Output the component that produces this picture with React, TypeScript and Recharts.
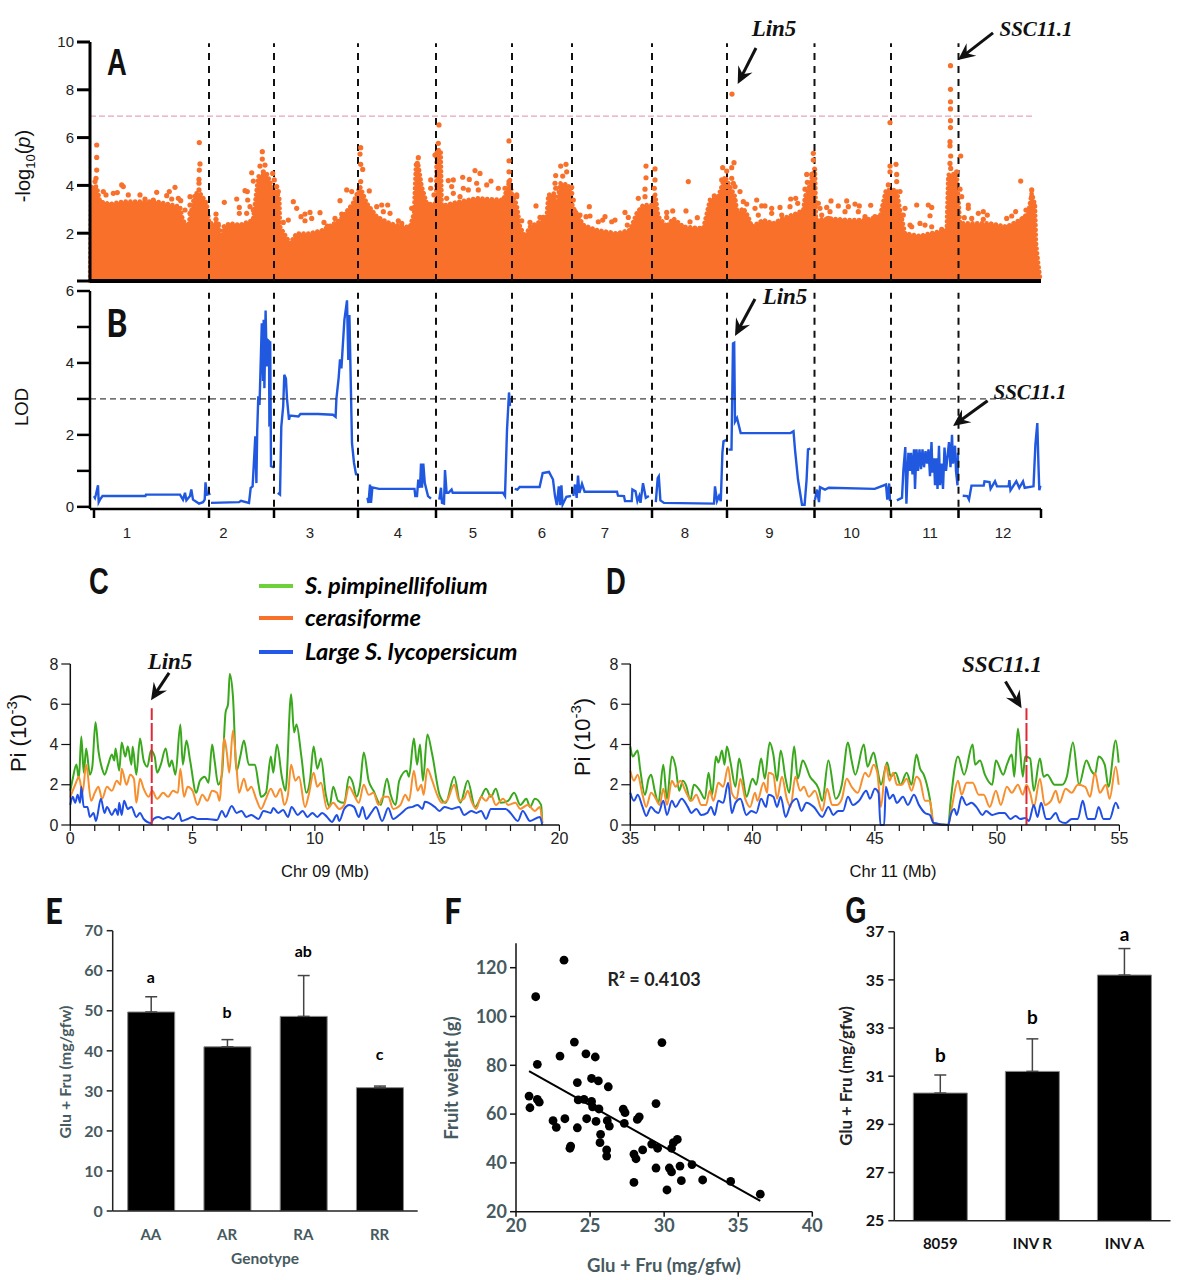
import {
  Area,
  Bar,
  ComposedChart,
  ErrorBar,
  LabelList,
  Line,
  ReferenceLine,
  Scatter,
  XAxis,
  YAxis,
} from "recharts";

type Pair = [number, number];

// panel A: genome position in Mb along the whole axis
const chrBounds = [119, 184, 268, 346, 422, 482, 562, 637, 724.5, 801, 868.5];
const chrNames = ["1", "2", "3", "4", "5", "6", "7", "8", "9", "10", "11", "12"];
const chrCenters = [37, 133.5, 220, 308, 383, 452, 515, 595, 679.5, 761.6, 840, 913];
const chrTicks = [4, ...chrBounds, 951];

const gwasTop: Pair[] = [
  [0, 0], [1, 3.4], [1.7, 3.95], [6.7, 3.95], [10, 3.32], [20, 3.22], [33, 3.32], [50, 3.32], [67, 3.32], [90, 3.11], [92.7, 2.55], [98, 2.27], [105, 3.67], [110, 3.67],
  [116.7, 3.25], [119.3, 2.41], [128, 2.41], [131.7, 1.72], [133.3, 2.27], [140, 2.41], [150, 2.34], [163, 2.55], [168.3, 4.37], [176.7, 4.5], [183.3, 3.81], [189.3, 3.53],
  [190, 2.27], [200, 1.58], [206.7, 1.99], [220, 1.99], [233, 2.13], [250, 2.55], [263, 3.25], [270, 3.95], [276.7, 3.25], [286.7, 2.69], [300, 2.41], [313, 2.27], [320, 2.27],
  [324, 2.83], [326, 4.92], [328.3, 4.85], [331.7, 3.95], [336.7, 3.25], [340, 3.22], [346, 3.25], [346.7, 5.48], [350.7, 5.48], [351.7, 3.18], [356.7, 3.18], [361.7, 3.25],
  [386.7, 3.46], [413.3, 3.39], [416.7, 3.81], [420, 4.23], [421.7, 3.67], [426.7, 3.18], [430, 2.27], [435, 1.85], [440, 2.27], [453.3, 2.55], [456.7, 2.69], [458.3, 3.6],
  [465, 3.67], [466.7, 3.04], [470, 4.09], [478.3, 4.02], [482.7, 3.11], [493.3, 2.34], [506.7, 2.13], [526.7, 1.99], [540, 2.13], [546.7, 2.83], [553.3, 3.18], [561.7, 3.18],
  [565, 3.67], [568.3, 2.69], [576.7, 2.27], [583.3, 2.62], [593.3, 2.27], [613.3, 2.2], [620, 3.39], [628.3, 3.53], [635, 4.37], [640, 3.95],
  [645, 3.53], [647.3, 2.83], [653.3, 3.04], [658.3, 2.69], [661.7, 2.27], [673.3, 2.55], [683.3, 2.41], [693.3, 2.62], [706.7, 2.83], [713.3, 2.97], [715, 3.53], [718.3, 3.81],
  [725, 4.78], [726, 2.55], [740, 2.62], [756.7, 2.55], [773, 2.55], [790, 2.69], [796, 3.81], [806.7, 3.81], [810, 2.97], [815, 1.99], [830, 1.88], [840, 1.99], [856.7, 2.13],
  [858.3, 4.44], [866.7, 4.5], [870, 2.41], [900, 2.41], [916.7, 2.27], [930, 2.55], [938.3, 2.83], [941.7, 3.67], [945, 3.18], [946, 1.58], [948.3, 0.7], [950.4, 0],
];

const gwasDots: Pair[] = [
  [6.7, 5.69], [6.7, 5.17], [6.7, 4.64], [6, 4.3], [5, 4.16],
  [13.3, 3.74], [16, 3.6], [23.3, 3.67], [27.3, 3.7], [31.7, 4.02], [33.3, 3.95], [38.3, 3.6], [50, 3.6], [55, 3.43], [66.7, 3.71], [63.3, 3.39], [76.7, 3.57], [79.3, 3.74], [85, 3.92],
  [81.7, 3.43], [88.3, 3.46], [90.7, 3.36], [100, 3.53], [100, 3.18], [95, 2.97], [100, 2.83], [109, 3.81], [109, 4.09], [109, 4.25], [109.3, 4.64], [110, 4.9], [109.3, 5.79],
  [126, 2.8], [126, 2.58], [128.3, 2.38], [134.3, 3.29], [146.7, 3.43], [149.3, 3.08], [149.3, 2.83], [155, 3.78], [157.3, 3.74], [157.7, 3.39], [161.7, 4.53], [163.3, 4.18], [160, 3.11],
  [163.3, 2.97], [156.7, 2.83], [172.3, 5.41], [172.3, 5.1], [170, 4.81], [175, 4.85], [173.3, 4.57], [182.7, 4.5], [184.3, 4.23], [186.7, 3.95], [188.3, 3.74],
  [193.3, 2.45], [198.3, 2.55], [203.3, 3.32], [206.7, 3.04], [211, 2.69], [215, 2.8], [220, 2.87], [215, 2.52], [221.7, 2.62], [230, 2.86], [234, 2.45], [237.3, 2.3], [245, 2.62], [250, 3.36],
  [251.7, 2.8], [256.7, 3.81], [261.7, 3.74], [270.7, 5.58], [270, 5.31], [270.7, 4.88], [272.7, 4.67], [270.7, 4.16], [279.3, 3.77], [286.7, 3.11], [291.7, 3.18], [297.7, 3.18], [293.3, 2.9],
  [300, 2.83], [308.3, 2.52], [311.7, 2.41],
  [321.7, 3.04], [327.3, 4.92], [328.3, 5.16], [340.7, 4.23], [340.7, 3.88], [344, 3.6], [345, 5.27], [348.3, 5.76], [348.3, 5.41], [349, 6.53], [358.3, 4.2], [363.3, 4.23], [361.7, 3.95], [363.3, 3.67],
  [356.7, 3.46], [372.7, 4.34], [379.3, 4.25], [385, 4.62], [390, 4.5], [386.7, 4.09], [396.7, 4.02], [401, 4.18], [373.3, 3.88], [378.3, 3.81], [388.3, 3.81], [370, 3.53], [408.3, 3.88],
  [419, 5.86], [419, 5.03], [419, 4.57], [419, 4.16], [415, 3.88], [426.7, 3.6], [426.7, 3.53], [431.7, 2.52], [440, 2.45], [446, 3.14], [450, 2.66], [453.3, 2.66], [465.7, 4.41], [465, 4.09],
  [465.7, 3.88], [460, 3.53], [470.7, 4.81], [476, 4.88], [472.7, 4.39], [476.7, 4.57], [481.7, 3.92], [481.7, 3.67], [483.3, 3.39], [485, 2.9], [490, 2.76], [496, 2.69], [499.3, 3.11], [500, 2.72],
  [508.3, 2.48], [515, 2.69], [512.7, 2.55], [521.7, 2.48], [525, 2.55], [535, 2.87], [538.3, 2.66], [537.3, 2.34], [556, 4.81], [556, 4.32], [555, 3.84], [555, 3.53], [548.3, 3.46], [550, 2.97],
  [565, 4.69], [565, 4.23], [564.3, 3.88], [576.7, 2.87], [576.7, 2.66], [582.7, 2.93], [596, 2.93], [598.3, 4.16], [600, 2.48], [607.3, 2.65], [621.7, 3.32], [624.3, 3.56], [632.7, 4.74], [636.7, 4.6],
  [631.7, 4.23], [636.7, 3.95],
  [642, 7.82], [644, 4.95], [641.7, 4.74], [641.7, 4.3], [643.3, 4.09], [645, 3.95], [650, 3.74], [653.3, 3.32], [656.7, 3.22], [666.7, 3.39], [665, 3.04], [671.7, 3.14], [675, 3.14], [668.3, 2.76],
  [681.7, 3.04], [681.7, 2.83], [690, 3.08], [691.7, 2.76], [700.7, 3.43], [705.7, 3.46], [700, 3.11], [707.7, 3.25], [723.3, 5.34], [723.3, 5.06], [716.7, 4.46], [721.7, 4.46], [717.3, 4.13], [715, 3.84],
  [728.3, 3.25], [730, 3.04], [736.7, 3.08], [741, 3.35], [748.3, 3.14], [740, 2.9], [731.7, 2.76], [738.3, 2.62], [750, 2.55], [756.7, 3.35], [758.3, 3.11], [755, 2.9], [765, 3.22], [769.3, 3.14],
  [768.3, 2.9], [775, 2.69], [780.7, 3.17], [792.7, 2.97], [785, 2.69], [800, 6.63], [800, 4.81], [806, 4.88], [800, 4.57], [806.7, 4.46], [806.7, 4.16], [798.3, 4.02], [810, 3.74], [815, 3.04], [813.3, 2.76],
  [820, 2.34], [826.7, 3.18], [838.3, 3.18], [841.7, 3.08], [840, 2.73], [841.7, 2.27], [830, 2.41], [835, 2.34], [821.7, 2.27], [851.7, 2.16], [860.5, 9.01], [860.5, 8.02], [860.5, 7.5], [860.5, 7.2],
  [860.5, 6.71], [860.5, 6.42], [860, 5.83], [860, 5.65], [860.7, 5.23], [860, 4.92], [860.7, 4.71], [866.7, 4.57], [870.7, 5.23], [870, 3.84], [871.7, 3.53], [878.3, 3.18], [878.3, 3.04], [881.7, 2.62],
  [874.3, 2.65], [888.3, 2.83], [893.3, 2.9], [897.3, 2.76], [893.3, 2.58], [900.7, 2.34], [916.7, 2.62], [921.7, 2.72], [925.7, 2.9], [936, 2.97], [930.7, 4.18], [941.7, 3.81], [941.7, 3.53], [941.7, 3.18],
  [933.3, 2.62], [944, 3.18],
];

// panel B: LOD curve, one list per chromosome
const lodChr1: Pair[] = [[4, 0.3], [5, 0.25], [6, 0.35], [8, 0.6], [8.7, 0.13], [10, 0.2], [12.5, 0.3], [55.4, 0.3], [56, 0.34], [90, 0.34], [93, 0.2], [95, 0.39], [96.4, 0.18], [100, 0.3], [101.3, 0.48], [103, 0.2], [109, 0.09], [113, 0.13], [114.7, 0.2], [115.5, 0.68], [117, 0.34], [120.5, 0.37]];
const lodChr2: Pair[] = [[121, 0.11], [149, 0.13], [151, 0.17], [159, 0.11], [160.7, 0.53], [162.6, 0.57], [163.7, 1.13], [165.3, 1.96], [166.4, 0.66], [167.2, 2.1], [168.3, 3.07], [169.5, 2.83], [171, 4.3], [171.8, 5.1], [173, 3.5], [173.7, 5.2], [174.4, 3.3], [175.6, 5.46], [176.8, 3.9], [177.9, 4.63], [179, 4.6], [179.4, 2.23], [180.2, 4.6], [181, 1.13], [184, 1.1]];
const lodChr3: Pair[] = [[187.8, 0.39], [190, 0.34], [191.3, 2.23], [193.2, 2.8], [194.3, 3.67], [195.9, 3.57], [197, 3], [199, 2.42], [200, 2.54], [208.5, 2.51], [210.4, 2.58], [228, 2.58], [243, 2.56], [245.6, 2.5], [246.4, 3], [248.7, 3.6], [250, 4.1], [251.4, 3.85], [254.4, 5.2], [257, 5.74], [258.3, 4.08], [259.4, 5.33], [262, 1.77], [264, 1.22], [266, 0.91], [268, 0.9]];
const lodChr4: Pair[] = [[277.4, 0.25], [278.5, 0.11], [280, 0.62], [281, 0.11], [282.4, 0.54], [289, 0.5], [324.5, 0.5], [325.3, 0.3], [327, 0.3], [328.3, 0.76], [330, 0.53], [331, 1.2], [332, 0.53], [333.3, 1.2], [334.8, 0.66], [338, 0.3], [341, 0.23]];
const lodChr5: Pair[] = [[349.3, 0.2], [351, 0.53], [352, 0.11], [354, 0.09], [355, 1.02], [356.6, 0.39], [358.5, 0.39], [361.6, 0.48], [362.7, 0.39], [413, 0.39], [415, 0.3], [417, 2.14], [419, 3.18], [420, 2.8]];
const lodChr6: Pair[] = [[424.7, 0.5], [427.4, 0.48], [429.7, 0.55], [449.6, 0.55], [452.7, 0.94], [459, 0.97], [463, 0.76], [465, 0.3], [466.8, 0.05], [468.8, 0.57], [470, 0.05], [471.4, 0.6], [472.6, 0.06], [476.4, 0.28], [481, 0.3]];
const lodChr7: Pair[] = [[483.3, 0.3], [485, 0.62], [486.7, 0.25], [488, 0.87], [489.4, 0.39], [492, 0.64], [494.6, 0.42], [527, 0.42], [528, 0.31], [534, 0.3], [535, 0.16], [541.7, 0.16], [542.4, 0.48], [545.5, 0.43], [547.4, 0.16], [549.3, 0.3], [550.5, 0.11], [553, 0.66], [555.8, 0.25], [558.9, 0.3]];
const lodChr8: Pair[] = [[565.8, 0.13], [567.7, 0.8], [568.8, 0.85], [570.4, 0.18], [574, 0.11], [624, 0.09], [625, 0.57], [627, 0.16], [629, 0.3], [630.8, 0.16], [632.4, 1.5], [633.5, 1.82], [637, 1.87]];
const lodChr9: Pair[] = [[638.5, 1.59], [641.5, 1.59], [643, 4.54], [644.2, 4.56], [645, 2.37], [647, 2.47], [650.7, 2.05], [700.5, 2.05], [703.5, 2.1], [705, 1.59], [708, 0.76], [712, 0.06], [714.6, 0.06], [716.6, 0.76], [718, 1.6], [720.4, 1.62]];
const lodChr10: Pair[] = [[725, 0.2], [727, 0.48], [729, 0.13], [730, 0.55], [735, 0.48], [738.8, 0.53], [784.7, 0.5], [796, 0.62], [797.3, 0.2], [799.2, 0.65], [800, 0.16]];
const lodChr11: Pair[] = [[806.9, 0.18], [812, 0.25], [813.4, 1.03], [815.3, 1.66], [816.4, 0.09], [818.4, 1.5], [820, 1.0], [821, 1.5], [822.5, 0.9], [824, 1.6], [825, 0.5], [826.5, 1.6], [828, 1.0], [829.5, 1.6], [831, 1.05], [832.5, 1.6], [834, 1.1], [835.5, 1.55], [837, 1.2], [838.5, 1.6], [840, 0.85], [841.5, 1.8], [842.5, 0.95], [844, 1.35], [845, 0.6], [846.5, 1.35], [847.5, 0.5], [849, 1.7], [850, 0.6], [851.5, 1.2], [853, 0.5], [854.5, 1.65], [856, 1.0], [857.5, 1.4], [859, 1.8], [860.5, 1.1], [862, 2.0], [863, 1.2], [865, 1.7], [866, 1.0], [867.5, 0.6], [868, 1.5]];
const lodChr12: Pair[] = [[872.7, 0.31], [877.3, 0.3], [879, 0.2], [881.5, 0.59], [893.7, 0.59], [894.5, 0.71], [899.5, 0.69], [900.6, 0.5], [905, 0.71], [907, 0.57], [918.6, 0.57], [919.4, 0.74], [920.5, 0.46], [926.3, 0.71], [929.3, 0.53], [933, 0.71], [934.7, 0.53], [943.5, 0.57], [945.4, 1.73], [947.3, 2.33], [948.5, 1.13], [949.3, 0.46], [950.4, 0.59]];
const lodByChr = [lodChr1, lodChr2, lodChr3, lodChr4, lodChr5, lodChr6, lodChr7, lodChr8, lodChr9, lodChr10, lodChr11, lodChr12];

// panel C: Pi along chr 09
const piC_green: Pair[] = [[0, 1.7], [0.1, 2.3], [0.25, 3.0], [0.35, 2.3], [0.45, 4.4], [0.55, 2.6], [0.65, 3.8], [0.8, 2.5], [0.9, 2.9], [1.03, 5.1], [1.15, 3.7], [1.3, 2.8], [1.4, 2.5], [1.55, 3.0], [1.7, 3.5], [1.8, 3.2], [1.85, 3.8], [2.0, 2.7], [2.1, 4.1], [2.25, 3.4], [2.35, 3.9], [2.5, 3.0], [2.55, 3.9], [2.7, 2.5], [2.85, 4.3], [3.0, 3.2], [3.15, 2.9], [3.3, 3.7], [3.45, 3.4], [3.55, 2.6], [3.7, 3.0], [3.9, 3.8], [4.05, 2.9], [4.15, 3.2], [4.3, 2.5], [4.5, 5.0], [4.6, 3.0], [4.75, 4.2], [4.9, 3.2], [5.15, 1.6], [5.3, 2.2], [5.5, 2.4], [5.65, 2.1], [5.8, 4.0], [5.9, 3.2], [6.05, 2.0], [6.2, 2.5], [6.35, 5.6], [6.45, 6.0], [6.52, 7.5], [6.65, 6.4], [6.8, 2.7], [6.95, 3.4], [7.1, 4.2], [7.3, 3.0], [7.55, 3.0], [7.7, 2.0], [7.8, 1.4], [8, 1.6], [8.2, 3.4], [8.3, 2.6], [8.45, 4.0], [8.65, 2.4], [8.8, 1.7], [9.03, 6.5], [9.15, 4.6], [9.25, 5.0], [9.45, 3.4], [9.65, 1.6], [9.8, 2.2], [9.95, 3.9], [10.1, 2.8], [10.25, 3.3], [10.45, 1.5], [10.6, 0.9], [10.75, 1.9], [10.95, 1.2], [11.2, 1.1], [11.4, 2.4], [11.55, 2.1], [11.7, 1.4], [11.85, 2.0], [12, 3.6], [12.2, 2.2], [12.4, 1.7], [12.7, 1.0], [12.95, 2.3], [13.1, 1.5], [13.3, 1.0], [13.45, 2.2], [13.75, 2.7], [13.85, 2.4], [14.05, 4.3], [14.18, 3.0], [14.3, 4.0], [14.42, 2.2], [14.6, 4.5], [14.8, 3.5], [15.1, 1.5], [15.35, 1.1], [15.7, 2.4], [15.95, 1.1], [16.25, 2.2], [16.55, 0.9], [16.8, 1.4], [17, 1.8], [17.2, 1.4], [17.4, 1.8], [17.6, 1.1], [17.9, 1.2], [18.15, 1.6], [18.4, 1.0], [18.65, 1.3], [18.8, 0.9], [19, 1.3], [19.25, 1.0], [19.3, 0.1]];
const piC_orange: Pair[] = [[0, 1.4], [0.2, 2.0], [0.35, 2.4], [0.5, 1.6], [0.65, 3.0], [0.85, 1.2], [1.0, 1.6], [1.15, 1.9], [1.3, 1.3], [1.5, 1.9], [1.7, 1.7], [1.9, 2.2], [2.05, 2.0], [2.1, 2.8], [2.3, 2.0], [2.45, 2.5], [2.6, 2.3], [2.7, 1.1], [2.85, 2.3], [3.0, 1.8], [3.2, 1.4], [3.35, 1.7], [3.55, 1.3], [3.8, 1.6], [4, 1.4], [4.2, 1.7], [4.4, 1.6], [4.5, 2.8], [4.65, 1.4], [4.8, 1.9], [5.0, 1.7], [5.2, 1.0], [5.4, 1.5], [5.6, 1.2], [5.8, 1.7], [6.0, 1.6], [6.1, 1.2], [6.3, 4.3], [6.4, 3.6], [6.5, 2.6], [6.65, 4.7], [6.8, 2.8], [6.9, 1.6], [7.1, 2.3], [7.25, 1.7], [7.4, 1.9], [7.6, 1.3], [7.8, 0.8], [8.0, 1.3], [8.2, 1.8], [8.4, 1.4], [8.6, 1.8], [8.75, 1.0], [8.9, 1.5], [9.03, 3.0], [9.2, 2.2], [9.35, 2.4], [9.6, 0.9], [9.75, 1.5], [9.95, 2.6], [10.1, 1.9], [10.25, 2.1], [10.5, 0.8], [10.75, 1.1], [11, 0.8], [11.2, 1.0], [11.4, 1.9], [11.6, 1.5], [11.8, 1.1], [12, 2.0], [12.2, 1.5], [12.4, 1.6], [12.6, 1.0], [12.8, 1.4], [13, 1.4], [13.2, 0.8], [13.5, 1.0], [13.7, 1.5], [13.85, 1.2], [14.05, 2.7], [14.2, 1.7], [14.35, 2.0], [14.45, 1.5], [14.6, 2.8], [14.8, 2.2], [15, 1.5], [15.2, 1.1], [15.4, 1.2], [15.7, 2.0], [15.9, 1.2], [16.1, 1.3], [16.25, 1.7], [16.4, 1.2], [16.6, 0.8], [16.8, 1.4], [17, 1.2], [17.2, 1.5], [17.4, 1.0], [17.7, 1.3], [17.9, 1.0], [18.2, 1.1], [18.4, 0.8], [18.7, 1.0], [19, 0.7], [19.2, 0.9], [19.3, 0.1]];
const piC_blue: Pair[] = [[0, 1.0], [0.1, 1.4], [0.2, 1.1], [0.3, 1.5], [0.4, 1.1], [0.45, 1.9], [0.55, 0.9], [0.7, 0.9], [0.8, 0.4], [0.95, 0.6], [1.05, 0.2], [1.25, 1.3], [1.4, 0.6], [1.5, 0.9], [1.7, 0.5], [1.85, 0.8], [1.95, 0.5], [2.0, 1.1], [2.1, 0.5], [2.2, 1.2], [2.35, 0.8], [2.5, 0.9], [2.7, 0.4], [2.85, 0.6], [3, 0.3], [3.3, 0.1], [3.4, 0.3], [3.6, 0.4], [3.8, 0.3], [4, 0.4], [4.2, 0.3], [4.45, 0.6], [4.55, 0.2], [4.8, 0.3], [5, 0.4], [5.2, 0.3], [5.6, 0.3], [6, 0.25], [6.2, 0.7], [6.35, 0.4], [6.6, 0.95], [6.8, 0.6], [7, 0.7], [7.2, 0.4], [7.4, 0.5], [7.7, 0.3], [7.9, 0.7], [8.2, 0.6], [8.3, 0.85], [8.5, 0.6], [8.7, 0.75], [8.9, 0.4], [9.05, 0.9], [9.3, 0.5], [9.5, 0.7], [9.7, 0.4], [9.9, 0.6], [10.1, 0.4], [10.3, 0.6], [10.5, 0.4], [10.7, 0.15], [10.9, 0.5], [11, 0.2], [11.2, 0.8], [11.4, 1.0], [11.6, 0.9], [11.8, 0.4], [11.95, 0.9], [12.1, 0.3], [12.3, 0.6], [12.5, 0.9], [12.75, 0.2], [13, 0.85], [13.2, 0.3], [13.5, 0.55], [13.8, 0.85], [14, 0.9], [14.2, 1.0], [14.4, 0.8], [14.5, 1.15], [14.9, 0.9], [15.1, 0.7], [15.3, 0.9], [15.6, 0.8], [15.9, 0.9], [16.1, 0.5], [16.4, 0.7], [16.6, 0.6], [16.8, 0.7], [17.0, 0.3], [17.2, 0.8], [17.5, 0.8], [17.8, 0.8], [18, 0.6], [18.3, 0.2], [18.5, 0.7], [18.8, 0.2], [19.2, 0.4], [19.3, 0]];

// panel D: Pi along chr 11
const piD_green: Pair[] = [[35, 3.9], [35.1, 3.4], [35.3, 3.7], [35.4, 2.8], [35.6, 1.5], [35.75, 2.3], [35.85, 2.5], [36, 1.7], [36.15, 1.1], [36.35, 3.0], [36.5, 1.3], [36.7, 3.4], [36.85, 2.9], [37, 1.7], [37.15, 2.2], [37.3, 1.9], [37.45, 1.2], [37.6, 2.0], [37.85, 1.7], [38.05, 1.3], [38.2, 2.6], [38.35, 1.5], [38.5, 3.4], [38.6, 3.1], [38.75, 3.7], [38.85, 3.0], [38.95, 3.9], [39.1, 3.1], [39.3, 1.9], [39.45, 3.3], [39.6, 2.4], [39.75, 1.4], [40.0, 2.3], [40.15, 2.0], [40.35, 3.3], [40.5, 2.3], [40.7, 4.1], [40.85, 3.5], [41, 2.2], [41.15, 3.7], [41.35, 2.3], [41.5, 1.6], [41.7, 3.9], [41.85, 2.3], [42.05, 3.2], [42.35, 2.4], [42.7, 1.8], [42.85, 1.2], [43.1, 3.2], [43.4, 1.3], [43.65, 2.0], [43.9, 4.1], [44.05, 3.2], [44.2, 2.5], [44.55, 4.0], [44.7, 2.9], [44.95, 3.6], [45.1, 2.8], [45.25, 2.0], [45.5, 3.1], [45.65, 2.4], [45.85, 2.6], [46.05, 2.0], [46.3, 2.6], [46.5, 2.0], [46.7, 3.5], [46.85, 2.8], [47, 2.5], [47.25, 1.3], [47.4, 0.1], [48, 0], [48.1, 1.2], [48.4, 3.4], [48.65, 2.5], [49, 4.0], [49.1, 3.0], [49.3, 3.2], [49.5, 2.5], [49.8, 2.0], [49.95, 3.2], [50.25, 2.5], [50.4, 3.0], [50.6, 3.5], [50.7, 2.4], [50.85, 4.8], [51.05, 2.4], [51.15, 3.4], [51.35, 3.3], [51.5, 1.7], [51.75, 3.3], [51.9, 2.4], [52.05, 2.5], [52.35, 2.0], [52.65, 2.0], [52.85, 2.4], [53.1, 4.1], [53.35, 2.0], [53.65, 3.2], [53.85, 2.7], [54.0, 2.5], [54.15, 3.4], [54.4, 3.0], [54.55, 1.9], [54.85, 4.2], [54.97, 3.1]];
const piD_orange: Pair[] = [[35, 2.7], [35.15, 2.2], [35.3, 2.5], [35.5, 1.5], [35.65, 0.9], [35.85, 1.6], [36, 1.4], [36.2, 1.0], [36.35, 1.8], [36.5, 1.0], [36.7, 2.2], [36.85, 1.9], [37.05, 2.2], [37.25, 1.7], [37.5, 1.2], [37.7, 1.5], [37.9, 1.0], [38.1, 1.0], [38.25, 1.7], [38.4, 1.2], [38.6, 2.1], [38.8, 1.9], [39, 2.9], [39.15, 1.6], [39.35, 1.3], [39.5, 2.3], [39.7, 1.3], [39.9, 0.9], [40.1, 1.6], [40.2, 1.2], [40.45, 2.1], [40.6, 1.6], [40.65, 2.6], [40.85, 2.5], [41, 1.3], [41.2, 2.4], [41.4, 1.3], [41.55, 0.9], [41.75, 2.4], [41.95, 1.7], [42.1, 1.9], [42.3, 1.4], [42.55, 1.7], [42.85, 0.7], [43.05, 1.8], [43.25, 1.0], [43.45, 1.0], [43.65, 1.3], [43.85, 2.3], [44.05, 1.9], [44.3, 1.6], [44.6, 2.6], [44.75, 2.4], [44.95, 3.0], [45.1, 2.6], [45.25, 0.9], [45.45, 3.0], [45.6, 2.2], [45.75, 2.6], [45.9, 2.0], [46.1, 2.0], [46.3, 2.3], [46.5, 1.7], [46.7, 2.4], [46.85, 2.2], [47.05, 1.2], [47.25, 1.2], [47.4, 0.1], [48, 0], [48.15, 0.9], [48.4, 2.2], [48.55, 1.5], [48.75, 2.1], [49, 2.1], [49.25, 1.5], [49.45, 1.5], [49.7, 0.9], [49.95, 1.7], [50.15, 1.0], [50.4, 1.9], [50.6, 1.6], [50.85, 2.0], [51.05, 1.5], [51.2, 2.0], [51.35, 1.6], [51.5, 0.9], [51.75, 2.3], [51.95, 1.0], [52.2, 1.2], [52.4, 1.7], [52.55, 1.1], [52.8, 1.8], [53.05, 1.6], [53.3, 2.0], [53.6, 1.9], [53.8, 1.4], [54, 2.6], [54.2, 1.6], [54.45, 2.0], [54.6, 1.3], [54.85, 2.9], [54.97, 2.0]];
const piD_blue: Pair[] = [[35, 1.6], [35.15, 1.2], [35.3, 1.5], [35.5, 0.9], [35.65, 0.45], [35.85, 0.9], [36, 0.7], [36.15, 0.6], [36.35, 1.2], [36.5, 0.5], [36.7, 1.2], [36.85, 0.9], [37.1, 1.3], [37.35, 0.9], [37.5, 0.6], [37.7, 0.8], [37.9, 0.5], [38.15, 0.6], [38.3, 0.9], [38.45, 0.5], [38.6, 1.2], [38.8, 1.1], [39, 2.1], [39.15, 0.6], [39.3, 1.1], [39.5, 1.3], [39.75, 0.5], [39.95, 0.7], [40.15, 0.6], [40.35, 1.3], [40.55, 0.9], [40.65, 1.5], [40.85, 1.4], [41, 0.9], [41.15, 1.4], [41.35, 0.4], [41.55, 1.0], [41.8, 1.3], [42, 0.7], [42.2, 1.1], [42.5, 0.9], [42.85, 0.4], [43.1, 0.9], [43.3, 0.5], [43.5, 0.7], [43.7, 0.7], [43.9, 1.4], [44.1, 1.0], [44.35, 1.2], [44.65, 1.7], [44.8, 1.3], [45, 1.8], [45.15, 1.6], [45.23, 0], [45.38, 0], [45.45, 1.9], [45.6, 1.3], [45.75, 1.5], [45.9, 1.1], [46.15, 1.4], [46.35, 1.0], [46.6, 1.5], [46.8, 1.0], [47.05, 0.6], [47.25, 0.5], [47.4, 0.1], [48, 0], [48.1, 0.5], [48.25, 0.8], [48.35, 0.5], [48.55, 1.4], [48.75, 1.0], [48.95, 1.1], [49.15, 0.9], [49.4, 0.5], [49.55, 0.7], [49.8, 0.5], [50.1, 0.6], [50.3, 0.6], [50.55, 0.3], [50.75, 0.45], [50.95, 0.3], [51.15, 0.35], [51.3, 0.2], [51.5, 1.0], [51.65, 0.4], [51.8, 1.1], [52, 0.3], [52.15, 0.3], [52.4, 0.6], [52.55, 0.2], [52.8, 0.1], [53.05, 0.3], [53.3, 0.3], [53.5, 1.2], [53.7, 0.3], [54, 0.3], [54.15, 0.9], [54.35, 0.3], [54.6, 0.3], [54.85, 1.1], [54.97, 0.8]];

const cTicks = [0, 1, 2, 3, 4, 5, 6, 7, 8, 9, 10, 11, 12, 13, 14, 15, 16, 17, 18, 19, 20];
const dTicks = [35, 36, 37, 38, 39, 40, 41, 42, 43, 44, 45, 46, 47, 48, 49, 50, 51, 52, 53, 54, 55];

// panel E
const genotypes = ["AA", "AR", "RA", "RR"];
const genotypeMeans = [49.7, 41, 48.6, 30.8];
const genotypeErrors = [3.8, 1.8, 10.2, 0.4];
const genotypeLetters = ["a", "b", "ab", "c"];
const genotypeLetterAt = [58.3, 49.6, 64.8, 39.1];

// panel F
const sugarWeight: Pair[] = [
  [23.24, 123.1], [21.33, 108.1], [23.94, 89.5], [29.85, 89.3], [24.72, 84.7], [25.35, 83.4], [22.97, 83.8], [21.44, 80.4], [25.1, 74.6], [25.56, 73.6],
  [24.14, 72.9], [26.23, 71.2], [20.88, 67.4], [20.94, 62.6], [21.44, 66], [21.57, 64.9], [24.2, 65.8], [24.59, 66], [25.1, 65.2], [25.17, 63], [25.6, 62.1],
  [29.45, 64.3], [27.24, 62], [27.36, 60.6], [28.32, 58.9], [28.19, 57.8], [22.5, 57.3], [22.72, 54.6], [23.3, 58.1], [24.14, 54.4], [24.77, 58.1], [25.4, 57],
  [26.16, 57.3], [26.3, 55.1], [27.31, 56.2], [25.71, 51.7], [25.67, 48.3], [26.12, 45.3], [26.12, 42.8], [23.69, 46.9], [23.64, 46], [28.55, 45.3], [27.96, 43.6],
  [28.1, 41.7], [29.16, 47.7], [29.56, 46], [30.5, 46], [30.62, 48.3], [30.89, 49.6], [31.88, 39.3], [31.07, 38.7], [30.35, 37.9], [30.5, 36.3], [29.45, 37.9],
  [27.96, 32], [30.19, 28.9], [31.16, 32.7], [32.6, 33], [34.49, 32.4], [36.49, 27.2],
];
const sugarTrend: Pair[] = [[20.88, 77.6], [36.49, 24.4]];

// panel G
const lines = ["8059", "INV R", "INV A"];
const lineMeans = [30.3, 31.2, 35.2];
const lineErrors = [0.75, 1.35, 1.1];
const lineLetters = ["b", "b", "a"];
const lineLetterAt = [31.85, 33.46, 36.9];

const pts = (list: Pair[]) => list.map(([x, y]) => ({ x, y }));
const table = (names: string[], means: number[], errs: number[], letters: string[], at: number[]) =>
  names.map((name, i) => ({ name, mean: means[i], err: [0, errs[i]], letter: letters[i], at: at[i] }));

const SANS = "'Liberation Sans', Arial, sans-serif";
const CAL = "Lato, 'Open Sans', sans-serif";
const SERIF = "'Liberation Serif', serif";
const SLATE = "#465a60";
const ORANGE = "#f8702a";
const LOD_BLUE = "#2058e0";
const PI_GREEN = "#3aa81c";
const PI_ORANGE = "#f78f2e";
const PI_BLUE = "#1f4fe6";
const RED = "#de2a38";

function Arrow(props: any) {
  const { x1, y1, x2, y2 } = props;
  const len = Math.hypot(x2 - x1, y2 - y1);
  const ux = (x2 - x1) / len;
  const uy = (y2 - y1) / len;
  const back = (d: number, s: number) => `${x2 - ux * d - uy * s},${y2 - uy * d + ux * s}`;
  return (
    <g>
      <line x1={x1} y1={y1} x2={x2 - ux * 10} y2={y2 - uy * 10} stroke="#111" strokeWidth={3} />
      <polygon points={`${x2},${y2} ${back(17, 8)} ${back(11, 0)} ${back(17, -8)}`} fill="#111" />
    </g>
  );
}

function Note({ x, y, size, font = SANS, weight = 400, italic = false, color = "#111", rotate = 0, stretch = 1, children }: any) {
  return (
    <div
      style={{
        position: "absolute",
        left: x,
        top: y,
        transform: `translate(-50%, -50%) rotate(${rotate}deg) scaleX(${stretch})`,
        fontFamily: font,
        fontSize: size,
        fontWeight: weight,
        fontStyle: italic ? "italic" : "normal",
        color,
        whiteSpace: "nowrap",
        lineHeight: 1,
      }}
    >
      {children}
    </div>
  );
}

function Box({ left, top, children }: any) {
  return <div style={{ position: "absolute", left, top }}>{children}</div>;
}

function arrowLine(key: string, from: Pair, to: Pair) {
  return (
    <ReferenceLine
      key={key}
      segment={[{ x: from[0], y: from[1] }, { x: to[0], y: to[1] }]}
      ifOverflow="visible"
      shape={Arrow}
    />
  );
}

function chrLines(top: number) {
  return chrBounds.map((x) => (
    <ReferenceLine
      key={x}
      segment={[{ x, y: 0 }, { x, y: top }]}
      stroke="#111"
      strokeWidth={2}
      strokeDasharray="7 6"
      ifOverflow="visible"
    />
  ));
}

function PanelA() {
  return (
    <ComposedChart width={1180} height={270} margin={{ top: 22, right: 139, bottom: 9, left: 0 }}>
      <XAxis dataKey="x" type="number" domain={[0, 951]} hide />
      <YAxis
        dataKey="y"
        type="number"
        width={90}
        domain={[0, 10]}
        ticks={[0, 2, 4, 6, 8, 10]}
        tickFormatter={(v) => (v === 0 ? "" : String(v))}
        tickSize={13}
        tickMargin={3}
        tick={{ fontSize: 15, fill: "#222", fontFamily: SANS }}
        axisLine={{ stroke: "#000", strokeWidth: 3 }}
        tickLine={{ stroke: "#000", strokeWidth: 3 }}
      />
      <Area
        data={pts(gwasTop)}
        dataKey="y"
        type="linear"
        stroke={ORANGE}
        strokeWidth={4.6}
        strokeDasharray="0.1 4.6"
        strokeLinecap="round"
        fill={ORANGE}
        fillOpacity={1}
        dot={false}
        isAnimationActive={false}
      />
      <Scatter
        data={pts(gwasDots)}
        dataKey="y"
        fill={ORANGE}
        shape={(p: any) => <circle cx={p.cx} cy={p.cy} r={2.6} fill={ORANGE} />}
        isAnimationActive={false}
      />
      <ReferenceLine segment={[{ x: 0, y: 6.9 }, { x: 945, y: 6.9 }]} stroke="#e8a3bb" strokeWidth={1.2} strokeDasharray="6 3" />
      <ReferenceLine y={0} stroke="#000" strokeWidth={4} />
      {chrLines(9.95)}
      {arrowLine("lin5", [666, 9.75], [647.7, 8.24])}
      {arrowLine("ssc", [903, 10.38], [868, 9.25])}
    </ComposedChart>
  );
}

function PanelB() {
  return (
    <ComposedChart width={1180} height={270} margin={{ top: 11, right: 139, bottom: 0, left: 0 }}>
      <XAxis
        xAxisId={0}
        dataKey="x"
        type="number"
        domain={[0, 951]}
        ticks={chrTicks}
        interval={0}
        height={10}
        tickSize={9}
        tickFormatter={() => ""}
        axisLine={{ stroke: "#000", strokeWidth: 2.5 }}
        tickLine={{ stroke: "#000", strokeWidth: 2.5 }}
      />
      <XAxis
        xAxisId="chr"
        dataKey="x"
        type="number"
        domain={[0, 951]}
        ticks={chrCenters}
        interval={0}
        height={31}
        axisLine={false}
        tickLine={false}
        tickMargin={2}
        tickFormatter={(v) => chrNames[chrCenters.indexOf(v)]}
        tick={{ fontSize: 15, fill: "#222", fontFamily: SANS }}
      />
      <YAxis
        dataKey="y"
        type="number"
        width={90}
        domain={[-0.06, 6]}
        ticks={[0, 1, 2, 3, 4, 5, 6]}
        interval={0}
        tickFormatter={(v) => (v % 2 === 0 ? String(v) : "")}
        tickSize={13}
        tickMargin={3}
        tick={{ fontSize: 15, fill: "#222", fontFamily: SANS }}
        axisLine={{ stroke: "#000", strokeWidth: 2.5 }}
        tickLine={{ stroke: "#000", strokeWidth: 2.5 }}
      />
      <Line xAxisId="chr" data={chrCenters.map((x) => ({ x, y: 0 }))} dataKey="y" stroke="none" dot={false} isAnimationActive={false} />
      {lodByChr.map((seg, i) => (
        <Line key={chrNames[i]} data={pts(seg)} dataKey="y" type="linear" stroke={LOD_BLUE} strokeWidth={2.4} dot={false} isAnimationActive={false} />
      ))}
      <ReferenceLine y={3} stroke="#111" strokeWidth={1} strokeDasharray="6 4" />
      {chrLines(5.95)}
      {arrowLine("lin5", [665, 5.78], [645, 4.75])}
      {arrowLine("ssc", [897.6, 2.95], [863, 2.25])}
    </ComposedChart>
  );
}

function PiPanel({ width, axisWidth, domain, ticks, major, green, orange, blue, marker, arrow }: any) {
  return (
    <ComposedChart width={width} height={210} margin={{ top: 14, right: 20.6, bottom: 0, left: 0 }}>
      <XAxis
        dataKey="x"
        type="number"
        domain={domain}
        ticks={ticks}
        interval={0}
        height={35}
        tickSize={6}
        tickMargin={2}
        tickFormatter={(v) => ((v - domain[0]) % 5 === 0 ? String(v) : "")}
        tick={{ fontSize: 16, fill: "#222", fontFamily: SANS }}
        axisLine={{ stroke: "#111", strokeWidth: 1.5 }}
        tickLine={{ stroke: "#111", strokeWidth: 1.2 }}
      />
      <YAxis
        dataKey="y"
        type="number"
        width={axisWidth}
        domain={[0, 8]}
        ticks={major}
        tickSize={9}
        tickMargin={3}
        tick={{ fontSize: 16, fill: "#222", fontFamily: SANS }}
        axisLine={{ stroke: "#111", strokeWidth: 1.5 }}
        tickLine={{ stroke: "#111", strokeWidth: 1.2 }}
      />
      <Line data={pts(green)} dataKey="y" type="monotone" stroke={PI_GREEN} strokeWidth={2} dot={false} isAnimationActive={false} />
      <Line data={pts(orange)} dataKey="y" type="monotone" stroke={PI_ORANGE} strokeWidth={2} dot={false} isAnimationActive={false} />
      <Line data={pts(blue)} dataKey="y" type="monotone" stroke={PI_BLUE} strokeWidth={2} dot={false} isAnimationActive={false} />
      <ReferenceLine segment={[{ x: marker, y: 0 }, { x: marker, y: 5.8 }]} stroke={RED} strokeWidth={2} strokeDasharray="18 3" />
      {arrowLine("gene", arrow[0], arrow[1])}
    </ComposedChart>
  );
}

function BarPanel({ width, height, margin, axisWidth, xHeight, rows, domain, ticks, band, tickColor, tickSize, barSize, xMargin, right, letterSize }: any) {
  return (
    <ComposedChart width={width} height={height} data={rows} margin={{ ...margin, right, bottom: 0, left: 0 }}>
      <XAxis
        dataKey="name"
        type="category"
        height={xHeight}
        tickLine={false}
        tickMargin={xMargin}
        tick={{ fontSize: band, fill: tickColor, fontFamily: CAL, fontWeight: 700 }}
        axisLine={{ stroke: "#222", strokeWidth: 1.5 }}
      />
      <YAxis
        type="number"
        width={axisWidth}
        domain={domain}
        ticks={ticks}
        interval={0}
        allowDataOverflow
        tickSize={6}
        tickMargin={4}
        tick={{ fontSize: tickSize, fill: tickColor, fontFamily: CAL, fontWeight: 700 }}
        axisLine={{ stroke: "#222", strokeWidth: 1.5 }}
        tickLine={{ stroke: "#222", strokeWidth: 1.5 }}
      />
      <Bar dataKey="mean" fill="#000" stroke="#888" strokeWidth={1} barSize={barSize} isAnimationActive={false}>
        <ErrorBar dataKey="err" direction="y" width={6} stroke="#444" strokeWidth={1.5} isAnimationActive={false} />
      </Bar>
      <Line dataKey="at" stroke="none" dot={false} isAnimationActive={false}>
        <LabelList dataKey="letter" position="center" style={{ fontFamily: CAL, fontWeight: 700, fontSize: letterSize, fill: "#000" }} />
      </Line>
    </ComposedChart>
  );
}

function PanelF() {
  return (
    <ComposedChart width={390} height={320} margin={{ top: 13.3, right: 17.7, bottom: 0, left: 0 }}>
      <XAxis
        dataKey="x"
        type="number"
        domain={[20, 40]}
        ticks={[20, 25, 30, 35, 40]}
        height={38.3}
        tickSize={5}
        tickMargin={3}
        tick={{ fontSize: 18, fill: SLATE, fontFamily: CAL, fontWeight: 700 }}
        axisLine={{ stroke: "#111", strokeWidth: 1.5 }}
        tickLine={{ stroke: "#111", strokeWidth: 1.5 }}
      />
      <YAxis
        dataKey="y"
        type="number"
        width={76}
        domain={[20, 130]}
        ticks={[20, 40, 60, 80, 100, 120]}
        interval={0}
        tickSize={6}
        tickMargin={3}
        tick={{ fontSize: 18, fill: SLATE, fontFamily: CAL, fontWeight: 700 }}
        axisLine={{ stroke: "#111", strokeWidth: 1.5 }}
        tickLine={{ stroke: "#111", strokeWidth: 1.5 }}
      />
      <Scatter
        data={pts(sugarWeight)}
        dataKey="y"
        fill="#000"
        shape={(p: any) => <circle cx={p.cx} cy={p.cy} r={4.4} fill="#000" />}
        isAnimationActive={false}
      />
      <Line data={pts(sugarTrend)} dataKey="y" type="linear" stroke="#000" strokeWidth={2} dot={false} isAnimationActive={false} />
    </ComposedChart>
  );
}

function Swatch({ y, color }: any) {
  return <div style={{ position: "absolute", left: 259, top: y - 2, width: 34, height: 4, background: color }} />;
}

const legendText = { position: "absolute", left: 305, fontFamily: CAL, fontWeight: 700, fontStyle: "italic", fontSize: 23.6, lineHeight: 1 } as const;
const NARROW = "'Liberation Sans', sans-serif";

export default function App() {
  return (
    <div style={{ position: "absolute", left: 0, top: 0, width: 1180, height: 1280, background: "#fff", overflow: "hidden" }}>
      <Box left={0} top={20}><PanelA /></Box>
      <Box left={0} top={280}><PanelB /></Box>
      <Box left={0} top={650}>
        <PiPanel width={580} axisWidth={70.3} domain={[0, 20]} ticks={cTicks} major={[0, 2, 4, 6, 8]} green={piC_green} orange={piC_orange} blue={piC_blue} marker={3.33} arrow={[[4.04, 7.56], [3.3, 6.2]]} />
      </Box>
      <Box left={570} top={650}>
        <PiPanel width={570} axisWidth={60.3} domain={[35, 55]} ticks={dTicks} major={[0, 2, 4, 6, 8]} green={piD_green} orange={piD_orange} blue={piD_blue} marker={51.2} arrow={[[50.34, 7.13], [51.0, 5.8]]} />
      </Box>
      <Box left={30} top={920}>
        <BarPanel width={400} height={340} margin={{ top: 10.7 }} right={12.3} axisWidth={82.7} xHeight={49} rows={table(genotypes, genotypeMeans, genotypeErrors, genotypeLetters, genotypeLetterAt)} domain={[0, 70]} ticks={[0, 10, 20, 30, 40, 50, 60, 70]} band={15} tickColor={SLATE} tickSize={16} barSize={47} xMargin={12} letterSize={16} />
      </Box>
      <Box left={440} top={930}><PanelF /></Box>
      <Box left={830} top={920}>
        <BarPanel width={350} height={345} margin={{ top: 11.7 }} right={9.5} axisWidth={64.3} xHeight={44.3} rows={table(lines, lineMeans, lineErrors, lineLetters, lineLetterAt)} domain={[25, 37]} ticks={[25, 27, 29, 31, 33, 35, 37]} band={15} tickColor="#111" tickSize={16} barSize={54} xMargin={12} letterSize={19} />
      </Box>

      <Note x={117} y={62} size={37} font={NARROW} weight={700} stretch={0.74}>A</Note>
      <Note x={117} y={322} size={37} font={CAL} weight={900} stretch={0.85}>B</Note>
      <Note x={99} y={581} size={37} font={NARROW} weight={700} stretch={0.74}>C</Note>
      <Note x={616} y={581} size={37} font={NARROW} weight={700} stretch={0.74}>D</Note>
      <Note x={54} y={910} size={36} font={CAL} weight={900} stretch={0.85}>E</Note>
      <Note x={453} y={910} size={36} font={CAL} weight={900} stretch={0.85}>F</Note>
      <Note x={856} y={910} size={37} font={NARROW} weight={700} stretch={0.74}>G</Note>

      <Note x={25} y={166} size={20} rotate={-90}>-log<sub style={{ fontSize: 13 }}>10</sub>(<i>p</i>)</Note>
      <Note x={22} y={407} size={18.5} rotate={-90}>LOD</Note>
      <Note x={17} y={733} size={22} rotate={-90}>Pi (10<sup style={{ fontSize: 15 }}>-3</sup>)</Note>
      <Note x={581} y={737} size={22} rotate={-90}>Pi (10<sup style={{ fontSize: 15 }}>-3</sup>)</Note>
      <Note x={325} y={871} size={16.5}>Chr 09 (Mb)</Note>
      <Note x={893} y={871} size={16.5}>Chr 11 (Mb)</Note>

      <Note x={774} y={28} size={23} font={SERIF} weight={700} italic>Lin5</Note>
      <Note x={1036} y={29} size={21} font={SERIF} weight={700} italic>SSC11.1</Note>
      <Note x={785} y={296} size={23} font={SERIF} weight={700} italic>Lin5</Note>
      <Note x={1030} y={392} size={21} font={SERIF} weight={700} italic>SSC11.1</Note>
      <Note x={170} y={661} size={23} font={SERIF} weight={700} italic>Lin5</Note>
      <Note x={1002} y={664} size={23} font={SERIF} weight={700} italic>SSC11.1</Note>

      <Swatch y={586} color="#6fd13a" />
      <Swatch y={618} color={ORANGE} />
      <Swatch y={652} color="#2458e8" />
      <div style={{ ...legendText, top: 574 }}>S. pimpinellifolium</div>
      <div style={{ ...legendText, top: 606 }}>cerasiforme</div>
      <div style={{ ...legendText, top: 640 }}>Large S. lycopersicum</div>

      <Note x={65} y={1072} size={16} font={CAL} weight={700} color={SLATE} rotate={-90}>Glu + Fru (mg/gfw)</Note>
      <Note x={265} y={1259} size={15.5} font={CAL} weight={700} color={SLATE}>Genotype</Note>
      <Note x={451} y={1078} size={18.5} font={CAL} weight={700} color={SLATE} rotate={-90}>Fruit weight (g)</Note>
      <Note x={664} y={1265} size={18.5} font={CAL} weight={700} color={SLATE}>Glu + Fru (mg/gfw)</Note>
      <Note x={654} y={979} size={18} font={CAL} weight={700} color="#222">R² = 0.4103</Note>
      <Note x={846} y={1076} size={16.8} font={CAL} weight={700} color="#222" rotate={-90}>Glu + Fru (mg/gfw)</Note>
    </div>
  );
}
